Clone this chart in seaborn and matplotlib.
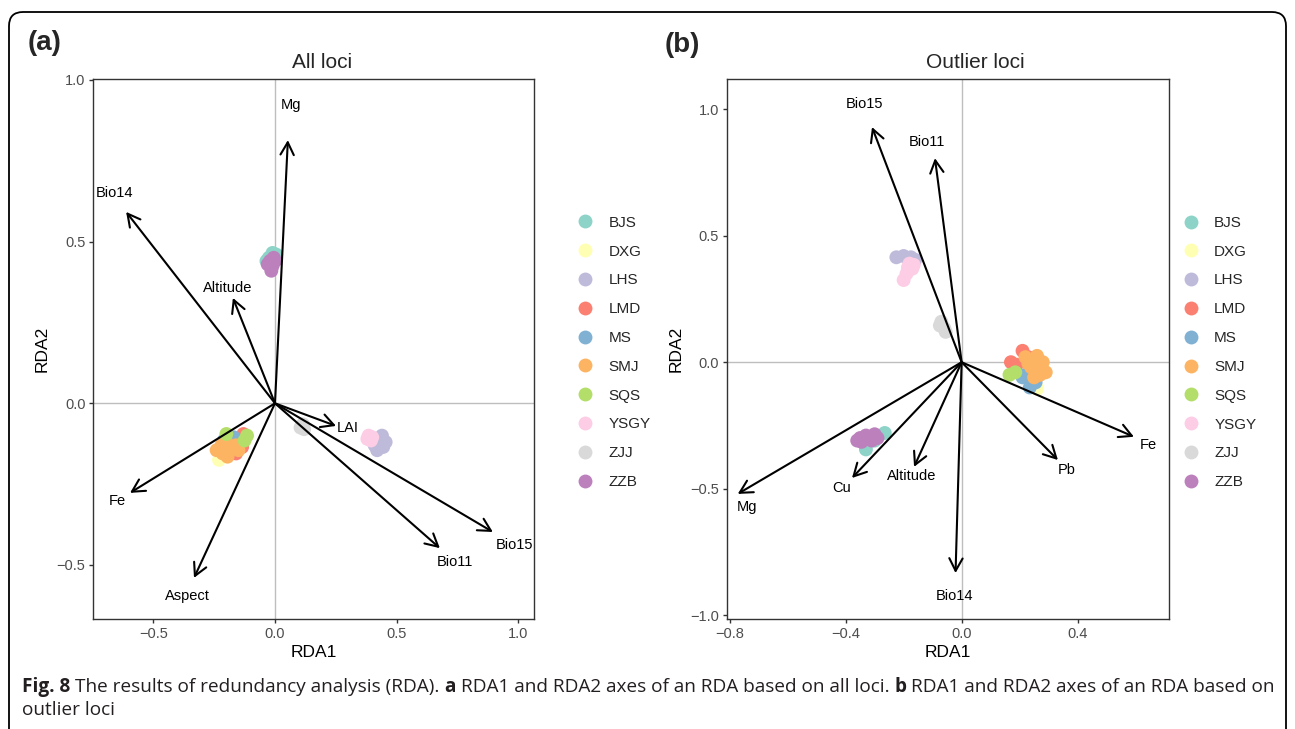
import matplotlib
matplotlib.use("Agg")
import matplotlib.pyplot as plt
import numpy as np
import pandas as pd
import seaborn as sns
from matplotlib.patches import FancyBboxPatch
from matplotlib.transforms import IdentityTransform
from matplotlib import font_manager

# ---------------- data ----------------
pops = ["BJS", "DXG", "LHS", "LMD", "MS", "SMJ", "SQS", "YSGY", "ZJJ", "ZZB"]
pop_colors = ["#8DD3C7", "#FFFFB3", "#BEBADA", "#FB8072", "#80B1D3",
              "#FDB462", "#B3DE69", "#FCCDE5", "#D9D9D9", "#BC80BD"]

# panel (a) - all loci: sample scores
a_pop = (["BJS"] * 4 + ["DXG"] * 3 + ["LHS"] * 6 + ["LMD"] * 5 + ["MS"] * 3 +
         ["SMJ"] * 8 + ["SQS"] * 3 + ["YSGY"] * 4 + ["ZJJ"] * 3 + ["ZZB"] * 6)
a_x = [-0.035, -0.01, 0.005, -0.025,
       -0.23, -0.21, -0.19,
       0.44, 0.455, 0.445, 0.42, 0.41, 0.43,
       -0.13, -0.135, -0.16, -0.18, -0.145,
       -0.21, -0.195, -0.17,
       -0.22, -0.20, -0.18, -0.215, -0.16, -0.195, -0.24, -0.15,
       -0.115, -0.125, -0.20,
       0.385, 0.395, 0.38, 0.40,
       0.115, 0.12, 0.105,
       -0.02, -0.01, -0.015, 0.0, -0.005, -0.03]
a_y = [0.44, 0.465, 0.46, 0.45,
       -0.175, -0.16, -0.15,
       -0.10, -0.12, -0.135, -0.145, -0.13, -0.115,
       -0.095, -0.135, -0.155, -0.12, -0.115,
       -0.115, -0.10, -0.105,
       -0.13, -0.12, -0.14, -0.155, -0.13, -0.165, -0.145, -0.145,
       -0.10, -0.115, -0.095,
       -0.10, -0.115, -0.11, -0.105,
       -0.065, -0.08, -0.075,
       0.44, 0.425, 0.41, 0.44, 0.45, 0.43]

# panel (a) - environmental vectors
a_var = ["Mg", "Bio14", "Altitude", "LAI", "Bio15", "Bio11", "Fe", "Aspect"]
a_vx = [0.053, -0.612, -0.173, 0.251, 0.896, 0.678, -0.596, -0.333]
a_vy = [0.814, 0.592, 0.326, -0.070, -0.398, -0.448, -0.277, -0.540]
a_lx = [0.066, -0.658, -0.193, 0.300, 0.986, 0.740, -0.649, -0.362]
a_ly = [0.923, 0.651, 0.357, -0.076, -0.438, -0.491, -0.302, -0.596]

# panel (b) - outlier loci: sample scores
b_pop = (["BJS"] * 3 + ["DXG"] * 2 + ["LHS"] * 4 + ["LMD"] * 4 + ["MS"] * 5 +
         ["SMJ"] * 10 + ["SQS"] * 2 + ["YSGY"] * 6 + ["ZJJ"] * 4 + ["ZZB"] * 7)
b_x = [-0.265, -0.33, -0.30,
       0.26, 0.24,
       -0.225, -0.20, -0.175, -0.16,
       0.21, 0.17, 0.19, 0.23,
       0.22, 0.235, 0.255, 0.21, 0.245,
       0.22, 0.25, 0.27, 0.29, 0.24, 0.26, 0.28, 0.25, 0.23, 0.27,
       0.165, 0.185,
       -0.18, -0.17, -0.19, -0.20, -0.165, -0.185,
       -0.07, -0.06, -0.055, -0.075,
       -0.35, -0.33, -0.30, -0.345, -0.31, -0.29, -0.36]
b_y = [-0.28, -0.345, -0.31,
       -0.105, -0.09,
       0.415, 0.42, 0.415, 0.405,
       0.045, 0.0, -0.01, 0.02,
       -0.05, -0.10, -0.08, -0.06, -0.03,
       0.02, 0.01, -0.01, -0.04, -0.02, 0.025, 0.0, -0.06, -0.005, -0.05,
       -0.05, -0.04,
       0.39, 0.37, 0.35, 0.325, 0.385, 0.375,
       0.16, 0.135, 0.12, 0.145,
       -0.30, -0.29, -0.285, -0.315, -0.31, -0.30, -0.31]

# panel (b) - environmental vectors
b_var = ["Bio15", "Bio11", "Fe", "Pb", "Bio14", "Altitude", "Cu", "Mg"]
b_vx = [-0.309, -0.092, 0.594, 0.332, -0.021, -0.164, -0.378, -0.772]
b_vy = [0.930, 0.807, -0.295, -0.387, -0.834, -0.414, -0.458, -0.521]
b_lx = [-0.334, -0.120, 0.642, 0.363, -0.023, -0.172, -0.413, -0.741]
b_ly = [1.021, 0.871, -0.328, -0.426, -0.925, -0.450, -0.498, -0.573]

# ---------------- style ----------------
sns.set_style("white")
plt.rcParams["font.family"] = ["Liberation Sans", "DejaVu Sans"]

W, H = 1295, 729
fig = plt.figure(figsize=(W / 100, H / 100), dpi=100)
fig.patch.set_facecolor("white")


def px_axes(left, top, right, bottom):
    return fig.add_axes([left / W, 1 - bottom / H, (right - left) / W, (bottom - top) / H])


def draw_panel(ax, pop, xs, ys, var, vx, vy, lx, ly, xlim, ylim, xticks, yticks,
               legend_anchor):
    df = pd.DataFrame({"x": xs, "y": ys, "pop": pop})
    ax.axhline(0, color="#BEBEBE", lw=1.0, zorder=1)
    ax.axvline(0, color="#BEBEBE", lw=1.0, zorder=1)
    sns.scatterplot(data=df, x="x", y="y", hue="pop", hue_order=pops,
                    palette=pop_colors, s=100, linewidth=0, alpha=1.0,
                    ax=ax, zorder=3)
    for name, x1, y1, tx, ty in zip(var, vx, vy, lx, ly):
        ax.annotate("", xy=(x1, y1), xytext=(0, 0),
                    arrowprops=dict(arrowstyle="->,head_length=0.6,head_width=0.32",
                                    lw=1.5, color="black", shrinkA=0, shrinkB=0,
                                    mutation_scale=15),
                    zorder=4)
        ax.text(tx, ty, name, ha="center", va="center", fontsize=10.5,
                color="black", zorder=5)
    ax.set_xlim(*xlim)
    ax.set_ylim(*ylim)
    ax.set_xticks(xticks)
    ax.set_yticks(yticks)
    ax.set_xticklabels([f"{t:.1f}".replace("-", "\u2212") for t in xticks])
    ax.set_yticklabels([f"{t:.1f}".replace("-", "\u2212") for t in yticks])
    for sp in ax.spines.values():
        sp.set_color("#333333")
        sp.set_linewidth(1.0)
    ax.tick_params(direction="out", length=3.2, width=1.0, color="#333333",
                   labelcolor="#4D4D4D", labelsize=10.5, pad=2.5,
                   bottom=True, left=True)
    ax.set_xlabel("RDA1", fontsize=12.5, color="black")
    ax.set_ylabel("RDA2", fontsize=12.5, color="black")
    ax.xaxis.set_label_coords(0.5, -0.047)
    ax.yaxis.set_label_coords(-0.098, 0.5)
    sns.move_legend(ax, "center left", bbox_to_anchor=legend_anchor, frameon=False,
                    title="", fontsize=11, handlelength=1.0, handletextpad=1.0,
                    labelspacing=0.97, borderpad=0.4)


ax_a = px_axes(93.3, 79, 534, 619.3)
draw_panel(ax_a, a_pop, a_x, a_y, a_var, a_vx, a_vy, a_lx, a_ly,
           xlim=(-0.747, 1.065), ylim=(-0.668, 1.003),
           xticks=[-0.5, 0.0, 0.5, 1.0], yticks=[-0.5, 0.0, 0.5, 1.0],
           legend_anchor=(1.068, 0.494))

ax_b = px_axes(727, 79.3, 1169, 619.3)
draw_panel(ax_b, b_pop, b_x, b_y, b_var, b_vx, b_vy, b_lx, b_ly,
           xlim=(-0.809, 0.715), ylim=(-1.017, 1.119),
           xticks=[-0.8, -0.4, 0.0, 0.4], yticks=[-1.0, -0.5, 0.0, 0.5, 1.0],
           legend_anchor=(1.002, 0.494))

# titles and panel tags
fig.text(322 / W, 1 - 63 / H, "All loci", ha="center", va="center", fontsize=15)
fig.text(975 / W, 1 - 63 / H, "Outlier loci", ha="center", va="center", fontsize=15)
fig.text(45 / W, 1 - 43 / H, "(a)", ha="center", va="center", fontsize=20, weight="bold")
fig.text(682 / W, 1 - 45 / H, "(b)", ha="center", va="center", fontsize=20, weight="bold")

# outer rounded frame
frame = FancyBboxPatch((9, -30), 1277, H - 12 + 30,
                       boxstyle="round,pad=0,rounding_size=14",
                       transform=IdentityTransform(), fill=False,
                       ec="black", lw=1.3)
fig.add_artist(frame)

# caption
avail = {f.name for f in font_manager.fontManager.ttflist}
cap_family = "Open Sans" if "Open Sans" in avail else "DejaVu Sans"
renderer = fig.canvas.get_renderer()

line1 = [("Fig. 8", True), ("The results of redundancy analysis (RDA).", False),
         ("a", True), ("RDA1 and RDA2 axes of an RDA based on all loci.", False),
         ("b", True), ("RDA1 and RDA2 axes of an RDA based on", False)]
line2 = [("outlier loci", False)]


def seg_width(txt, bold, size):
    t = fig.text(0, 0, txt, fontsize=size, family=cap_family,
                 weight="bold" if bold else "normal")
    w = t.get_window_extent(renderer=renderer).width
    t.remove()
    return w


def space_width(size):
    return seg_width("x x", False, size) - seg_width("xx", False, size)


def line_width(segs, size):
    return sum(seg_width(t, b, size) for t, b in segs) + space_width(size) * (len(segs) - 1)


base = 12.0
size = base * (1250 / line_width(line1, base))


def draw_line(segs, x0, y0, size):
    x = x0
    sp = space_width(size)
    for txt, bold in segs:
        fig.text(x / W, 1 - y0 / H, txt, fontsize=size, family=cap_family,
                 weight="bold" if bold else "normal", va="center", ha="left",
                 color="#231F20")
        x += seg_width(txt, bold, size) + sp


draw_line(line1, 22, 687, size)
draw_line(line2, 22, 710, size)

fig.savefig("out.png", dpi=100)
